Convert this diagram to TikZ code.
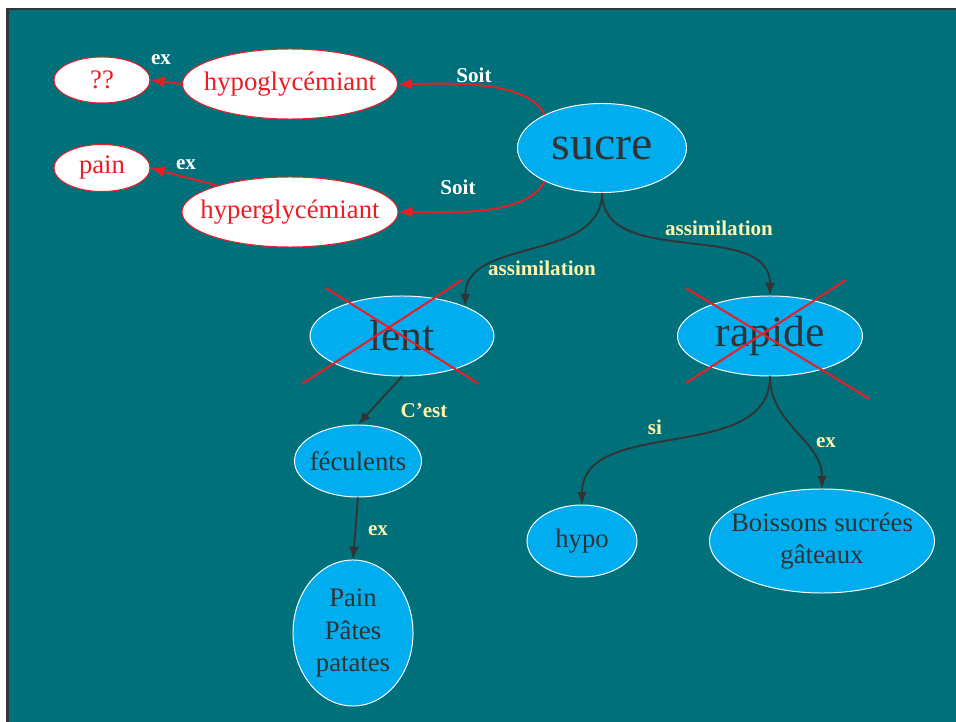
\documentclass[tikz,border=0pt]{standalone}
\usepackage{fontspec}
\setmainfont{Liberation Serif}
\usetikzlibrary{shapes.geometric,arrows.meta}

\definecolor{slidebg}{RGB}{0,112,122}
\definecolor{slideframe}{RGB}{45,55,60}
\definecolor{bubble}{RGB}{0,174,239}
\definecolor{bubbletext}{RGB}{51,51,51}
\definecolor{warnred}{RGB}{237,28,36}
\definecolor{linkyellow}{RGB}{255,242,170}

\tikzset{
  bulle/.style={ellipse, draw=white, line width=0.7pt, fill=bubble, text=bubbletext,
    inner xsep=-10pt, inner ysep=0pt, align=center, font=\fontsize{19}{23}\selectfont},
  rouge/.style={ellipse, draw=warnred, line width=0.7pt, fill=white, text=warnred,
    inner xsep=-10pt, inner ysep=0pt, font=\fontsize{19}{23}\selectfont},
  lien/.style={->, >={Latex[length=9pt,width=7pt]}, line width=1.3pt, draw=bubbletext},
  lienrouge/.style={->, >={Latex[length=10pt,width=8pt]}, line width=1.3pt, draw=warnred},
  mot/.style={font=\fontsize{15}{18}\selectfont\bfseries, text=linkyellow},
  motblanc/.style={font=\fontsize{15}{18}\selectfont\bfseries, text=white},
  croix/.style={draw=warnred, line width=1.4pt},
}

\begin{document}
\begin{tikzpicture}[x=0.025cm, y=-0.025cm]
        % Slide background
            \useasboundingbox (0,0) rectangle (956,722);
            \fill[white] (0,0) rectangle (956,722);
            \fill[slideframe] (6,8) rectangle (956,722);
            \fill[slidebg] (9,10.5) rectangle (956,722);

            % Red branch (top left)
            \node[rouge, minimum width=2.4cm, minimum height=1.15cm] (qq) at (102,80) {??};
            \node[rouge, minimum width=5.375cm, minimum height=1.75cm] (hypogly) at (290,84) {hypoglycémiant};
            \node[rouge, minimum width=2.4cm, minimum height=1.175cm] (pain) at (102,168) {pain};
            \node[rouge, minimum width=5.4cm, minimum height=1.75cm] (hypergly) at (290,212) {hyperglycémiant};

            % Blue concepts
            \node[bulle, minimum width=4.225cm, minimum height=2.225cm, font=\fontsize{34}{36}\selectfont] (sucre) at (602,148) {sucre};
            \node[bulle, minimum width=4.6cm, minimum height=2cm, font=\fontsize{31}{34}\selectfont] (lent) at (402,336) {lent};
            \node[bulle, minimum width=4.625cm, minimum height=2cm, font=\fontsize{31}{34}\selectfont] (rapide) at (770,336) {rapide};
            \node[bulle, minimum width=3.175cm, minimum height=1.8cm] (fecul) at (358,461) {féculents};
            \node[bulle, minimum width=3cm, minimum height=3.65cm] (pates) at (353,633) {Pain\\Pâtes\\patates};
            \node[bulle, minimum width=2.75cm, minimum height=1.8cm] (hypo) at (582,541) {hypo};
            \node[bulle, minimum width=5.625cm, minimum height=2.6cm] (boissons) at (822,541) {Boissons sucrées\\gâteaux};

            % Red links
            \draw[lienrouge] (sucre.150) to[out=115, in=0, looseness=0.7] (hypogly.east);
            \draw[lienrouge] (sucre.210) to[out=-115, in=0, looseness=0.7] (hypergly.east);
            \draw[lienrouge] (hypogly.west) -- (qq.east);
            \draw[lienrouge] (hypergly.160) -- (pain.east);

            % Dark links
            \draw[lien] (sucre.south) to[out=-90, in=90] (lent.25);
            \draw[lien] (sucre.south) to[out=-90, in=90] (rapide.north);
            \draw[lien] (lent.south) -- (fecul.north);
            \draw[lien] (fecul.south) -- (pates.north);
            \draw[lien] (rapide.south) to[out=-90, in=90] (hypo.north);
            \draw[lien] (rapide.south) to[out=-90, in=90] (boissons.north);

            % Link words
            \node[motblanc] (ex1) at (161,60) {ex};
            \node[motblanc] (ex2) at (186,165) {ex};
            \node[motblanc] (soit1) at (474,75) {Soit};
            \node[motblanc] (soit2) at (458,187) {Soit};
            \node[mot] (assim1) at (719,228) {assimilation};
            \node[mot] (assim2) at (542,268) {assimilation};
            \node[mot] (cest) at (424,411) {C’est};
            \node[mot] (si) at (655,427) {si};
            \node[mot] (ex3) at (378,531) {ex};
            \node[mot] (ex4) at (826,443) {ex};

            % Crossed out
            \draw[croix] (326,288) -- (479,384);
            \draw[croix] (462,280) -- (302,384);
            \draw[croix] (686,288) -- (870,399);
            \draw[croix] (846,280) -- (686,383);

    \end{tikzpicture}
\end{document}
